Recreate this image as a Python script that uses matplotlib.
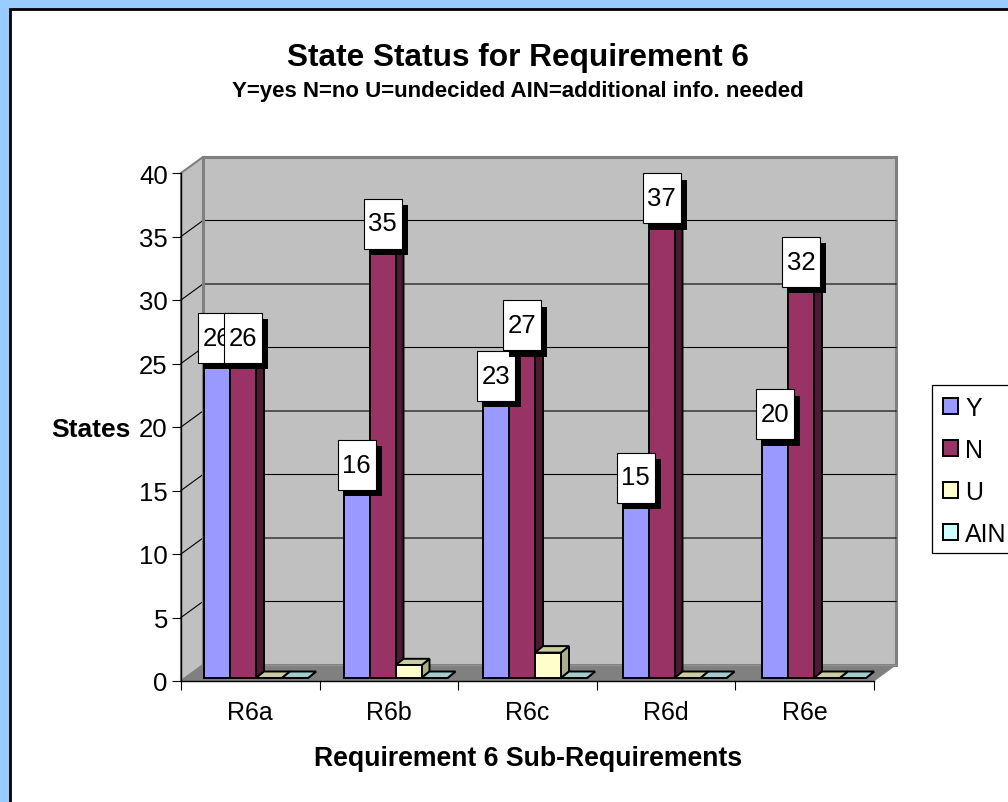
import numpy as np
import matplotlib
matplotlib.use("Agg")
import matplotlib.pyplot as plt
from matplotlib.patches import Polygon, Rectangle

categories = ["R6a", "R6b", "R6c", "R6d", "R6e"]
series_names = ["Y", "N", "U", "AIN"]
y_vals = [26, 16, 23, 15, 20]
n_vals = [26, 35, 27, 37, 32]
u_vals = [0, 1, 2, 0, 0]
ain_vals = [0, 0, 0, 0, 0]
series_vals = [y_vals, n_vals, u_vals, ain_vals]
series_colors = ["#9999FF", "#993366", "#FFFFCC", "#CCFFFF"]
y_ticks = [0, 5, 10, 15, 20, 25, 30, 35, 40]

W, H = 1008, 803
PX_X = 138.6   # pixels per category
PX_Y = 12.7    # pixels per state


def shade(color, f):
    rgb = np.array(matplotlib.colors.to_rgb(color))
    return tuple(rgb * f)


def fx(px):
    return px / W


def fy(py):
    return 1 - py / H


plt.rcParams["font.family"] = ["Liberation Sans", "DejaVu Sans"]

fig = plt.figure(figsize=(W / 100, H / 100), dpi=100, facecolor="#99CCFF")
fig.add_artist(Rectangle((fx(10), fy(1000)), 1.2, fy(10) - fy(1000), transform=fig.transFigure,
                         facecolor="white", edgecolor="black", linewidth=2, zorder=-1))

ax = fig.add_axes([fx(181), fy(682), fx(693), fy(174) - fy(682)])
ax.set_xlim(0, 5)
ax.set_ylim(0, 40)
ax.patch.set_visible(False)

# walls and floor
wall_dx = 22 / PX_X
wall_dy = 16 / PX_Y
ax.add_patch(Rectangle((wall_dx, wall_dy), 5, 40, facecolor="#C0C0C0", edgecolor="#808080",
                       linewidth=2.2, clip_on=False, zorder=1))
ax.add_patch(Polygon([(0, 0), (wall_dx, wall_dy), (wall_dx, 40 + wall_dy), (0, 40)], closed=True,
                     facecolor="#C0C0C0", edgecolor="#808080", linewidth=1.5, clip_on=False, zorder=1.1))
ax.add_patch(Polygon([(0, 0), (5, 0), (5 + wall_dx, wall_dy), (wall_dx, wall_dy)], closed=True,
                     facecolor="#808080", edgecolor="#808080", linewidth=0.5, clip_on=False, zorder=1.2))
for t in y_ticks[1:-1]:
    ax.plot([0, wall_dx, 5 + wall_dx], [t, t + wall_dy, t + wall_dy], color="black", linewidth=0.8,
            clip_on=False, zorder=1.3)
ax.plot([wall_dx, wall_dx], [wall_dy, 40 + wall_dy], color="#808080", linewidth=2.2, clip_on=False, zorder=1.4)
ax.plot([wall_dx, 5 + wall_dx], [wall_dy, wall_dy], color="#909090", linewidth=1, clip_on=False, zorder=1.4)

# bars
bar_start = 23 / PX_X
bar_w = 26 / PX_X
bar_step = 139.5 / PX_X
base = 3 / PX_Y
depth_x = 8 / PX_X
depth_y = 6.5 / PX_Y

handles = []
z = 2
for j, (vals, col) in enumerate(zip(series_vals, series_colors)):
    xs = np.arange(len(categories)) * bar_step + bar_start + j * bar_w
    for x, v in zip(xs, vals):
        top = base + v
        ax.add_patch(Polygon([(x + bar_w, base), (x + bar_w + depth_x, base + depth_y),
                              (x + bar_w + depth_x, top + depth_y), (x + bar_w, top)], closed=True,
                             facecolor=shade(col, 0.5 if j < 2 else 0.68), edgecolor="black", linewidth=1.4,
                             clip_on=False, zorder=z))
        ax.add_patch(Polygon([(x, top), (x + depth_x, top + depth_y), (x + bar_w + depth_x, top + depth_y),
                              (x + bar_w, top)], closed=True, facecolor=shade(col, 0.8), edgecolor="black",
                             linewidth=1.4, clip_on=False, zorder=z))
    b = ax.bar(xs, vals, bar_w, bottom=base, align="edge", color=col, edgecolor="black", linewidth=1.4,
               clip_on=False, zorder=z + 0.5, label=series_names[j])
    handles.append(b)
    z += 1

# value boxes, only on the two tall series
box_w = 38 / PX_X
box_h = 50 / PX_Y
shadow_x = 6 / PX_X
shadow_y = 6.5 / PX_Y
z = 10
for i in range(len(categories)):
    for j in [0, 1]:
        v = series_vals[j][i]
        cx = i * bar_step + bar_start + (j + 0.5) * bar_w
        cy = base + v + 10 / PX_Y
        ax.add_patch(Rectangle((cx - box_w / 2 + shadow_x, cy - box_h / 2 - shadow_y), box_w, box_h,
                               facecolor="black", edgecolor="black", linewidth=0, clip_on=False, zorder=z))
        ax.add_patch(Rectangle((cx - box_w / 2, cy - box_h / 2), box_w, box_h, facecolor="white",
                               edgecolor="black", linewidth=0.8, clip_on=False, zorder=z + 0.1))
        ax.text(cx, cy, str(v), ha="center", va="center", fontsize=18.5, color="black",
                zorder=z + 0.2, clip_on=False)
        z += 1

# axes
for s in ["top", "right"]:
    ax.spines[s].set_visible(False)
for s in ["left", "bottom"]:
    ax.spines[s].set_linewidth(1)
    ax.spines[s].set_zorder(1.5)
ax.set_yticks(y_ticks)
ax.tick_params(axis="y", labelsize=18.5, length=6.5, width=0.8, pad=3)
ax.set_xticks(np.arange(6))
ax.set_xticklabels([])
ax.set_xticks(np.arange(5) + 0.5, categories, minor=True)
ax.tick_params(axis="x", which="major", length=6.5, width=0.8)
ax.tick_params(axis="x", which="minor", length=0, labelsize=18, pad=13.5)

fig.text(fx(518), fy(58), "State Status for Requirement 6", ha="center", va="center", fontsize=22.8,
         fontweight="bold")
fig.text(fx(518), fy(91), "Y=yes N=no U=undecided AIN=additional info. needed", ha="center", va="center",
         fontsize=16, fontweight="bold")
fig.text(fx(528), fy(759), "Requirement 6 Sub-Requirements", ha="center", va="center", fontsize=19.2,
         fontweight="bold")
fig.text(fx(91), fy(430), "States", ha="center", va="center", fontsize=19, fontweight="bold")

# legend frame is drawn apart so that its height can follow the reference
fig.add_artist(Rectangle((fx(932), fy(554)), 0.2, fy(386) - fy(554), transform=fig.transFigure,
                         facecolor="white", edgecolor="black", linewidth=0.9, zorder=0.5))
leg = fig.legend(handles=handles, labels=series_names, loc="upper left",
                 bbox_to_anchor=(fx(929), fy(383)), bbox_transform=fig.transFigure, fontsize=18,
                 frameon=False, handlelength=0.6, handleheight=0.6, handletextpad=0.3,
                 labelspacing=0.72, borderpad=0.55, borderaxespad=0)

fig.savefig("out.png", dpi=100, facecolor=fig.get_facecolor())
